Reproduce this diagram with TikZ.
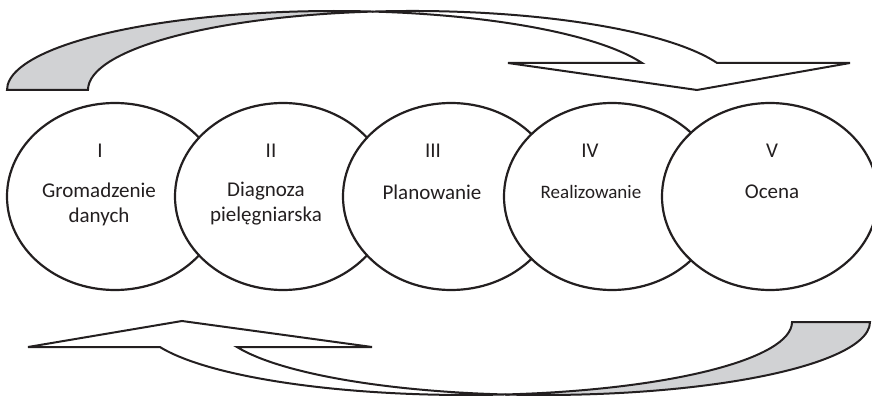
\documentclass[tikz,border=0pt]{standalone}
\usepackage{fontspec}
\setmainfont{Carlito}
\usetikzlibrary{shapes.geometric}
\definecolor{ink}{HTML}{231F20}
\definecolor{band}{HTML}{D1D2D4}
\begin{document}
\begin{tikzpicture}[x=1pt,y=1pt,
  stage/.style={ellipse, draw=ink, fill=white, line width=2.2pt, minimum width=216pt, minimum height=187pt, inner sep=0pt},
  arrowline/.style={draw=ink, line width=2pt, line join=miter},
  lbl/.style={text=ink, font=\fontsize{21}{25}\selectfont, align=center, inner sep=0pt},
  lblsmall/.style={text=ink, font=\fontsize{19}{23}\selectfont, align=center, inner sep=0pt}]
\useasboundingbox (0,0) rectangle (872,399);
\clip (0,0) rectangle (872,399);

% top curved arrow
\coordinate (tA) at (7,309);
\path[arrowline, fill=band] (tA)
  arc[start angle=180, end angle=83.17, x radius=327.4, y radius=79] coordinate (tX)
  arc[start angle=96.9, end angle=180, x radius=324.3, y radius=79] -- cycle;
\path[arrowline, fill=white] (tX)
  arc[start angle=96.9, end angle=20, x radius=324.3, y radius=79]
  -- (850,336) -- (697,309) -- (508,336) -- (642.05,336)
  arc[start angle=20, end angle=83.17, x radius=327.4, y radius=79] -- cycle;

% bottom curved arrow
\coordinate (bA) at (870,77);
\path[arrowline, fill=band] (bA)
  arc[start angle=0, end angle=-96.82, x radius=326.4, y radius=73] coordinate (bX)
  arc[start angle=-83.17, end angle=0, x radius=325.9, y radius=73] -- cycle;
\path[arrowline, fill=white] (bX)
  arc[start angle=-96.82, end angle=-159.97, x radius=326.4, y radius=73]
  -- (372,52) -- (182,78) -- (28,52) -- (159.9,52)
  arc[start angle=-159.97, end angle=-83.17, x radius=325.9, y radius=73] -- cycle;

% stages
\node[stage] (e1) at (115,202.5) {};
\node[stage] (e2) at (283,202.5) {};
\node[stage] (e3) at (451,202.5) {};
\node[stage] (e4) at (612,202.5) {};
\node[stage] (e5) at (770,202.5) {};

\node[lbl] (n1) at (100,248) {I};
\node[lbl] (n2) at (271,248) {II};
\node[lbl] (n3) at (433,248) {III};
\node[lbl] (n4) at (590,248) {IV};
\node[lbl] (n5) at (772,248) {V};

\node[lbl] (t1) at (99,195) {Gromadzenie\\danych};
\node[lbl] (t2) at (266,195) {Diagnoza\\pielęgniarska};
\node[lbl] (t3) at (432,207) {Planowanie};
\node[lblsmall] (t4) at (591,207) {Realizowanie};
\node[lbl] (t5) at (772,207) {Ocena};
\end{tikzpicture}
\end{document}
